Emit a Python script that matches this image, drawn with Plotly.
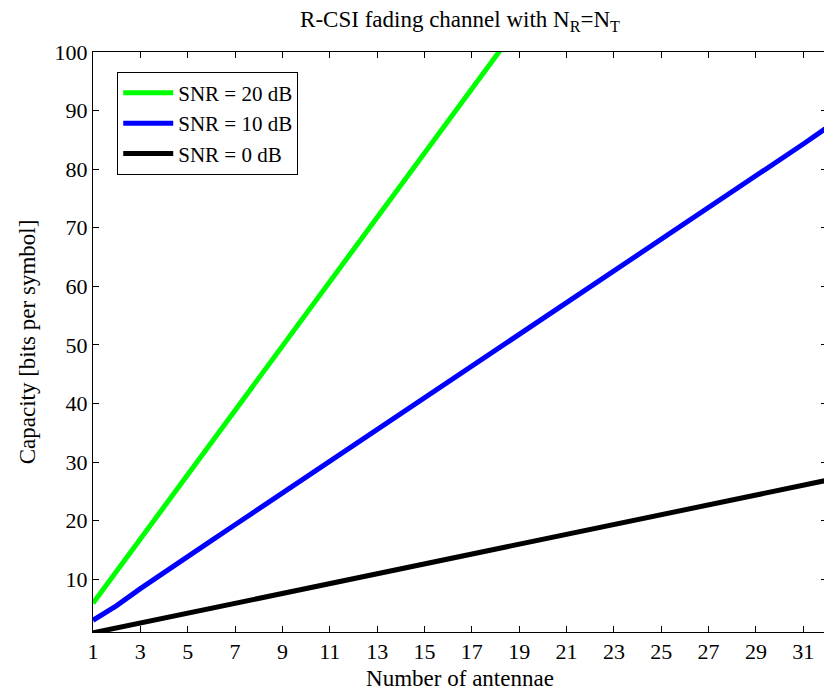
import plotly.graph_objects as go

antennas = list(range(1, 33))
cap_20db = [5.9, 11.4, 16.9, 22.4, 27.9, 33.4, 38.9, 44.4, 49.9, 55.4, 60.8, 66.3, 71.8, 77.3,
            82.8, 88.3, 93.7, 99.2, 104.7, 110.2, 115.7, 121.2, 126.6, 132.1, 137.6, 143.1,
            148.6, 154.0, 159.5, 165.0, 170.5, 176.0]
cap_10db = [3.0, 5.5, 8.4, 11.2, 13.9, 16.6, 19.3, 22.0, 24.7, 27.4, 30.1, 32.9, 35.6, 38.3,
            41.0, 43.7, 46.4, 49.1, 51.8, 54.5, 57.2, 60.0, 62.7, 65.4, 68.1, 70.8, 73.5,
            76.2, 78.9, 81.6, 84.3, 87.1]
cap_0db = [0.86, 1.70, 2.54, 3.38, 4.22, 5.06, 5.90, 6.74, 7.58, 8.42, 9.26, 10.10, 10.94,
           11.78, 12.62, 13.46, 14.30, 15.14, 15.98, 16.82, 17.66, 18.50, 19.34, 20.18, 21.02,
           21.86, 22.70, 23.54, 24.38, 25.22, 26.06, 26.90]
series_names = ["SNR = 20 dB", "SNR = 10 dB", "SNR = 0 dB"]
x_ticks = list(range(1, 33, 2))
y_ticks = list(range(10, 101, 10))

colors = ["#00ff00", "#0000ff", "#000000"]
font_family = "Liberation Serif"

# The page body has an 8px margin, so the figure is drawn 8px smaller and offset.
W, H = 824, 687

fig = go.Figure()
for name, vals, col in zip(series_names, [cap_20db, cap_10db, cap_0db], colors):
    fig.add_trace(go.Scatter(x=antennas, y=vals, mode="lines", name=name,
                             line=dict(color=col, width=5)))

axis_common = dict(showgrid=False, zeroline=False, showline=True, linecolor="black",
                   linewidth=1, mirror="ticks", ticks="inside", ticklen=6, automargin=False,
                   tickcolor="black", tickfont=dict(family=font_family, size=22, color="black"))

fig.update_xaxes(range=[1, 32], tickvals=x_ticks, title=dict(text="Number of antennae",
                 font=dict(family=font_family, size=23, color="black"), standoff=6),
                 **axis_common)
fig.update_yaxes(range=[1, 100], tickvals=y_ticks, title=dict(text="Capacity [bits per symbol]",
                 font=dict(family=font_family, size=23, color="black"), standoff=12),
                 **axis_common)

fig.update_layout(
    width=W, height=H,
    margin=dict(l=85, r=5, t=44, b=63),
    paper_bgcolor="white", plot_bgcolor="white",
    title=dict(text="R-CSI fading channel with N<sub>R</sub>=N<sub>T</sub>",
               font=dict(family=font_family, size=23, color="black"),
               x=452 / W, xanchor="center", y=1 - 11 / H, yanchor="middle",
               xref="container", yref="container"),
    legend=dict(x=0.033, y=0.966, xanchor="left", yanchor="top",
                bordercolor="black", borderwidth=1, bgcolor="white",
                font=dict(family=font_family, size=21, color="black"),
                tracegroupgap=0, itemwidth=50),
    showlegend=True,
)

fig.write_html("out.html")
